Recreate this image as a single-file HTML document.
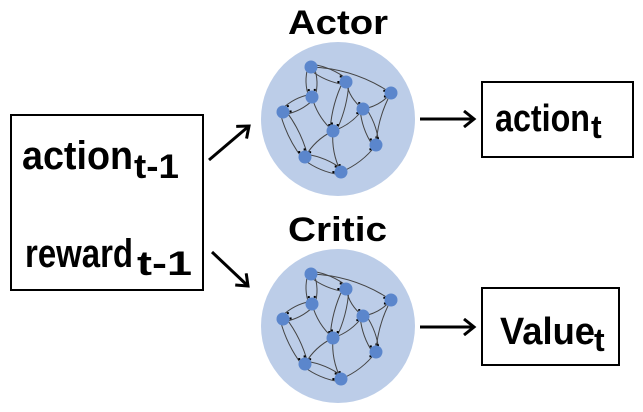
<!DOCTYPE html>
<html><head><meta charset="utf-8"><style>
html,body{margin:0;padding:0;background:#fff;}
svg{display:block;}
text{font-family:"Liberation Sans",Arial,sans-serif;font-weight:bold;fill:#000;}
</style></head><body>
<svg id="d" width="643" height="412" viewBox="0 0 643 412" xmlns="http://www.w3.org/2000/svg">
<defs>
<marker id="ah" markerWidth="16" markerHeight="18" refX="12" refY="9" orient="auto" markerUnits="userSpaceOnUse"><path d="M2,1 L12,9 L2,17" fill="none" stroke="#000" stroke-width="3"/></marker>
</defs>
<rect x="11" y="115" width="192" height="175" fill="#fff" stroke="#000" stroke-width="2"/>
<text x="22" y="169" font-size="40" textLength="111" lengthAdjust="spacingAndGlyphs">action</text>
<text x="134" y="178" font-size="34" textLength="45" lengthAdjust="spacingAndGlyphs">t-1</text>
<text x="25" y="267" font-size="40" textLength="108" lengthAdjust="spacingAndGlyphs">reward</text>
<text x="137" y="275" font-size="34" textLength="55" lengthAdjust="spacingAndGlyphs">t-1</text>
<line x1="209" y1="160" x2="249" y2="126" stroke="#000" stroke-width="3" marker-end="url(#ah)"/>
<line x1="212" y1="252" x2="248" y2="286" stroke="#000" stroke-width="3" marker-end="url(#ah)"/>
<text x="288" y="34" font-size="34" textLength="100" lengthAdjust="spacingAndGlyphs">Actor</text>
<text x="288" y="241" font-size="34" textLength="99" lengthAdjust="spacingAndGlyphs">Critic</text>
<g id="actor"></g>
<g id="critic" transform="translate(0,207)"></g>
<line x1="420" y1="119" x2="474" y2="119" stroke="#000" stroke-width="3" marker-end="url(#ah)"/>
<line x1="420" y1="327" x2="474" y2="327" stroke="#000" stroke-width="3" marker-end="url(#ah)"/>
<rect x="482" y="82" width="151" height="75" fill="#fff" stroke="#000" stroke-width="2"/>
<text x="495" y="131" font-size="38" textLength="95" lengthAdjust="spacingAndGlyphs">action</text>
<text x="591" y="138" font-size="32">t</text>
<rect x="482" y="288" width="137" height="77" fill="#fff" stroke="#000" stroke-width="2"/>
<text x="500" y="344" font-size="38" textLength="95" lengthAdjust="spacingAndGlyphs">Value</text>
<text x="594" y="351" font-size="32">t</text>
</svg>
<script>
const NS="http://www.w3.org/2000/svg";
const nodes=[[311,67],[346,82],[312,97],[283,112],[391,93],[363,109],[333,131],[376,145],[305,157],[341,172]];
const edges=[[0,1,1],[0,2,1],[0,4,0],[1,6,1],[1,5,0],[2,3,1],[2,6,0],[3,8,1],[6,8,0],[8,9,1],[6,9,0],[6,5,0],[5,4,0],[5,7,1],[9,7,0],[4,7,0]];
function build(g){
  const c=document.createElementNS(NS,'circle');
  c.setAttribute('cx',338);c.setAttribute('cy',119);c.setAttribute('r',77);c.setAttribute('fill','#bccde8');
  
  
  g.appendChild(c);
  edges.forEach(e=>{
    const a=nodes[e[0]],b=nodes[e[1]];
    const offs=e[2]?[-3,3]:[0];
    offs.forEach((o,i)=>{
      const dx=b[0]-a[0],dy=b[1]-a[1],L=Math.hypot(dx,dy),nx=-dy/L,ny=dx/L;
      const bend=(e[2]?(i?5:-5):(L>60?-12:6));
      const p1=[a[0]+nx*o,a[1]+ny*o],p2=[b[0]+nx*o,b[1]+ny*o];
      const mx=(p1[0]+p2[0])/2+nx*bend,my=(p1[1]+p2[1])/2+ny*bend;
      const p=document.createElementNS(NS,'path');
      p.setAttribute('d',`M${p1[0]},${p1[1]} Q${mx},${my} ${p2[0]},${p2[1]}`);
      p.setAttribute('fill','none');p.setAttribute('stroke','#444');p.setAttribute('stroke-width','1');
      
      
      g.appendChild(p);
      const t=7/L, q=document.createElementNS(NS,'rect');
      q.setAttribute('x',p2[0]-dx*t-1);q.setAttribute('y',p2[1]-dy*t-1);q.setAttribute('width',2);q.setAttribute('height',2);q.setAttribute('fill','#000');
      
      
      g.appendChild(q);
    });
  });
  nodes.forEach(n=>{
    const c=document.createElementNS(NS,'circle');
    c.setAttribute('cx',n[0]);c.setAttribute('cy',n[1]);c.setAttribute('r',6.5);c.setAttribute('fill','#5b86cc');
    
    
    g.appendChild(c);
  });
}
build(document.getElementById('actor'));
build(document.getElementById('critic'));
</script>
</body></html>
